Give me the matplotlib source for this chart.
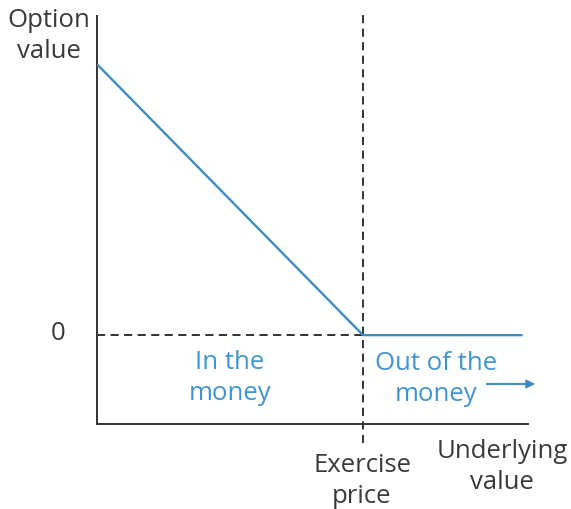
import matplotlib
import matplotlib.pyplot as plt

plt.rcParams['font.family'] = ['Open Sans', 'DejaVu Sans']

# payoff of a put option: value falls to zero at the exercise price
underlying = [0, 50, 80]
option_value = [50, 0, 0]
exercise_price = 50

text_col = "#3a3a3a"
blue = "#3d8cc4"
label_blue = "#3f95d2"

fig = plt.figure(figsize=(5.71, 5.10), dpi=100)
ax = fig.add_axes([97 / 571, 85 / 510, 431 / 571, 408 / 510])

ax.plot(underlying, option_value, color=blue, lw=1.7, solid_capstyle="butt", zorder=3)

ax.set_xlim(0, 81)
ax.set_ylim(-16.4, 58.9)

# dashed guide lines
ax.plot([exercise_price, exercise_price], [-19.9, 59.3], color="#222222", lw=1.3,
        ls=(0, (4.5, 3)), clip_on=False, zorder=2)
ax.plot([0, exercise_price], [0, 0], color="#222222", lw=1.3, ls=(0, (4.5, 3)), zorder=2)

for s in ["top", "right"]:
    ax.spines[s].set_visible(False)
for s in ["left", "bottom"]:
    ax.spines[s].set_color("#333333")
    ax.spines[s].set_linewidth(1.4)
ax.set_xticks([])
ax.set_yticks([])

fs = 18.5
ls = 1.3
fig.text(49 / 571, 1 - 36 / 510, "Option\nvalue", ha="center", va="center",
         fontsize=fs, color=text_col, linespacing=ls)
fig.text(58 / 571, 1 - 334 / 510, "0", ha="center", va="center", fontsize=fs, color=text_col)
fig.text(362 / 571, 1 - 481 / 510, "Exercise\nprice", ha="center", va="center",
         fontsize=fs, color=text_col, linespacing=ls)
fig.text(502 / 571, 1 - 467 / 510, "Underlying\nvalue", ha="center", va="center",
         fontsize=fs, color=text_col, linespacing=ls)

fig.text(230 / 571, 1 - 378 / 510, "In the\nmoney", ha="center", va="center",
         fontsize=fs, color=label_blue, linespacing=ls)
fig.text(436 / 571, 1 - 379 / 510, "Out of the\nmoney", ha="center", va="center",
         fontsize=fs, color=label_blue, linespacing=ls)

ax.annotate("", xy=(538 / 571, 1 - 385 / 510), xytext=(484 / 571, 1 - 385 / 510),
            xycoords="figure fraction",
            arrowprops=dict(arrowstyle="-|>", color=blue, lw=1.5, mutation_scale=12))

fig.savefig("out.png", dpi=100)
